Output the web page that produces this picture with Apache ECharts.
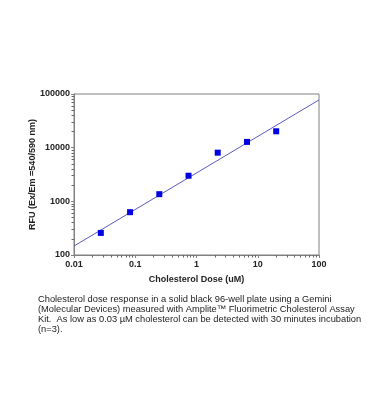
<!DOCTYPE html>
<html><head><meta charset="utf-8">
<script src="https://cdn.jsdelivr.net/npm/echarts@6/dist/echarts.min.js"></script>
<style>html,body{margin:0;padding:0;background:#fff}#c{width:367px;height:419px}</style>
</head><body><div id="c"></div>
<script>
const doses = [0.0274, 0.0823, 0.247, 0.741, 2.22, 6.67, 20];
const rfu = [258, 628, 1360, 3000, 8070, 12800, 20200];
const fitDoses = [0.01, 100];
const fitRfu = [147, 77600];
const xTickLabels = ['0.01', '0.1', '1', '10', '100'];
const yTickLabels = ['100', '1000', '10000', '100000'];
const captionLines = [
  'Cholesterol dose response in a solid black 96-well plate using a Gemini',
  '(Molecular Devices) measured with Amplite\u2122 Fluorimetric Cholesterol Assay',
  'Kit.  As low as 0.03 \u00b5M cholesterol can be detected with 30 minutes incubation',
  '(n=3).'
];

const chart = echarts.init(document.getElementById('c'), null, {renderer: 'canvas'});
const axisCol = '#808080';
const lbl = {fontFamily: 'Liberation Sans, Arial', fontWeight: 'bold', fontSize: 9, color: '#222'};
chart.setOption({
  animation: false,
  backgroundColor: '#fff',
  grid: {left: 74, right: 48, top: 94, bottom: 164, show: true, borderColor: axisCol, borderWidth: 1},
  xAxis: {
    type: 'log', logBase: 10, min: 0.01, max: 100,
    name: 'Cholesterol Dose (uM)', nameLocation: 'middle', nameGap: 25, nameMoveOverlap: false,
    nameTextStyle: Object.assign({}, lbl, {fontSize: 9, verticalAlign: 'middle'}),
    axisLine: {lineStyle: {color: axisCol}},
    axisTick: {show: true, length: 3, lineStyle: {color: axisCol}},
    minorTick: {show: true, splitNumber: 9, length: 2.5, lineStyle: {color: '#666'}},
    splitLine: {show: false},
    axisLabel: Object.assign({}, lbl, {margin: 5, formatter: v => {
      const i = Math.round(Math.log10(v)) + 2; return xTickLabels[i] || '';
    }})
  },
  yAxis: {
    type: 'log', logBase: 10, min: 100, max: 100000,
    name: 'RFU (Ex/Em =540/590 nm)', nameLocation: 'middle', nameGap: 41, nameRotate: 90, nameMoveOverlap: false,
    nameTextStyle: Object.assign({}, lbl, {fontSize: 9, verticalAlign: 'middle'}),
    axisLine: {lineStyle: {color: axisCol}},
    axisTick: {show: true, length: 3, lineStyle: {color: axisCol}},
    minorTick: {show: true, splitNumber: 9, length: 2.5, lineStyle: {color: '#666'}},
    splitLine: {show: false},
    axisLabel: Object.assign({}, lbl, {margin: 4, formatter: v => {
      const i = Math.round(Math.log10(v)) - 2; return yTickLabels[i] || '';
    }})
  },
  series: [
    {type: 'line', data: fitDoses.map((d, i) => [d, fitRfu[i]]), symbol: 'none',
     lineStyle: {color: '#5a5ac0', width: 1}, z: 2},
    {type: 'scatter', data: doses.map((d, i) => [d, rfu[i]]), symbol: 'rect', symbolSize: 6,
     itemStyle: {color: '#0000e0', opacity: 1}, z: 3}
  ],
  graphic: captionLines.map((t, i) => ({
    type: 'text', left: 38, top: 295 + i * 10,
    style: {text: t, fontFamily: 'Liberation Sans, Arial', fontSize: 9.3, fill: '#222'}
  }))
});
</script></body></html>
